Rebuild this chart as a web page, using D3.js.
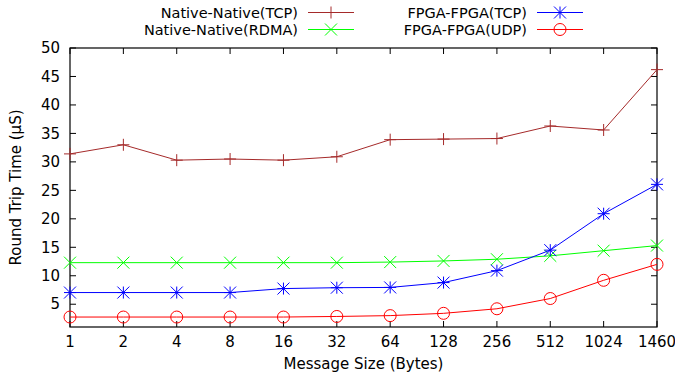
<!DOCTYPE html>
<html>
<head>
<meta charset="utf-8">
<script src="https://cdn.jsdelivr.net/npm/d3@7"></script>
<style>
  body { margin: 0; background: #fff; }
  text { font-family: "DejaVu Sans", sans-serif; fill: #000; }
</style>
</head>
<body>
<svg id="chart" width="675" height="379"></svg>
<script>
const sizes = ["1", "2", "4", "8", "16", "32", "64", "128", "256", "512", "1024", "1460"];
const nativeTcp = [31.4, 33.0, 30.3, 30.5, 30.3, 30.9, 33.9, 34.0, 34.1, 36.3, 35.6, 46.2];
const nativeRdma = [12.3, 12.3, 12.3, 12.3, 12.3, 12.3, 12.4, 12.6, 12.9, 13.5, 14.4, 15.3];
const fpgaTcp = [7.05, 7.05, 7.05, 7.05, 7.75, 7.9, 7.95, 8.8, 10.9, 14.5, 20.9, 26.05];
const fpgaUdp = [2.75, 2.75, 2.75, 2.75, 2.75, 2.85, 3.0, 3.4, 4.2, 6.0, 9.2, 12.0];
const yTicks = [5, 10, 15, 20, 25, 30, 35, 40, 45, 50];

const series = [
  {name: "Native-Native(TCP)", values: nativeTcp, color: "#a52a2a", mark: "plus"},
  {name: "Native-Native(RDMA)", values: nativeRdma, color: "#00ff00", mark: "cross"},
  {name: "FPGA-FPGA(TCP)", values: fpgaTcp, color: "#0000ff", mark: "star"},
  {name: "FPGA-FPGA(UDP)", values: fpgaUdp, color: "#ff0000", mark: "circle"}
];

const margin = {top: 48, right: 18, bottom: 52, left: 70};
const W = 675, H = 379;
const fs = 15;
const x = d3.scalePoint().domain(sizes).range([margin.left, W - margin.right]);
const y = d3.scaleLinear().domain([1, 50]).range([H - margin.bottom, margin.top]);

const svg = d3.select("#chart");

// ticks inside on all four sides (mirrored)
const tickLen = 6;
const ticks = svg.append("g").attr("stroke", "#000").attr("stroke-width", 1);
yTicks.forEach(t => {
  ticks.append("line").attr("x1", margin.left).attr("x2", margin.left + tickLen)
    .attr("y1", y(t)).attr("y2", y(t));
  ticks.append("line").attr("x1", W - margin.right).attr("x2", W - margin.right - tickLen)
    .attr("y1", y(t)).attr("y2", y(t));
});
sizes.forEach(s => {
  ticks.append("line").attr("x1", x(s)).attr("x2", x(s))
    .attr("y1", y(1)).attr("y2", y(1) - tickLen);
  ticks.append("line").attr("x1", x(s)).attr("x2", x(s))
    .attr("y1", y(50)).attr("y2", y(50) + tickLen);
});

svg.append("rect")
  .attr("x", margin.left).attr("y", margin.top)
  .attr("width", W - margin.left - margin.right)
  .attr("height", H - margin.top - margin.bottom)
  .attr("fill", "none").attr("stroke", "#000").attr("stroke-width", 1.2);

svg.append("g").selectAll("text").data(yTicks).join("text")
  .attr("x", margin.left - 10).attr("y", d => y(d)).attr("dy", "0.35em")
  .attr("text-anchor", "end").attr("font-size", fs).text(d => d);

svg.append("g").selectAll("text").data(sizes).join("text")
  .attr("x", d => x(d)).attr("y", 347)
  .attr("text-anchor", "middle").attr("font-size", fs).text(d => d);

svg.append("text")
  .attr("x", (margin.left + W - margin.right) / 2).attr("y", 369)
  .attr("text-anchor", "middle").attr("font-size", fs).text("Message Size (Bytes)");

svg.append("text")
  .attr("transform", `translate(21, ${(margin.top + H - margin.bottom) / 2}) rotate(-90)`)
  .attr("text-anchor", "middle").attr("font-size", fs).text("Round Trip Time (µS)");

function drawMark(g, type, cx, cy, color) {
  const r = 6;
  const line = (x1, y1, x2, y2) => g.append("line")
    .attr("x1", x1).attr("y1", y1).attr("x2", x2).attr("y2", y2)
    .attr("stroke", color).attr("stroke-width", 1);
  if (type === "plus" || type === "star") {
    line(cx - r, cy, cx + r, cy);
    line(cx, cy - r, cx, cy + r);
  }
  if (type === "cross" || type === "star") {
    line(cx - r, cy - r, cx + r, cy + r);
    line(cx - r, cy + r, cx + r, cy - r);
  }
  if (type === "circle") {
    g.append("circle").attr("cx", cx).attr("cy", cy).attr("r", r)
      .attr("fill", "none").attr("stroke", color).attr("stroke-width", 1);
  }
}

const lineGen = d3.line().x((d, i) => x(sizes[i])).y(d => y(d));

series.forEach(s => {
  const g = svg.append("g");
  g.append("path").attr("d", lineGen(s.values))
    .attr("fill", "none").attr("stroke", s.color).attr("stroke-width", 1);
  s.values.forEach((v, i) => drawMark(g, s.mark, x(sizes[i]), y(v), s.color));
});

// legend, two columns, text right aligned before a sample
const legendPos = [
  {tx: 298, ly: 12.5}, {tx: 298, ly: 29.5}, {tx: 527, ly: 12.5}, {tx: 527, ly: 29.5}
];
series.forEach((s, i) => {
  const p = legendPos[i];
  const g = svg.append("g");
  g.append("text").attr("x", p.tx).attr("y", p.ly).attr("dy", "0.35em")
    .attr("text-anchor", "end").attr("font-size", 14.5).text(s.name);
  g.append("line").attr("x1", p.tx + 10).attr("x2", p.tx + 56)
    .attr("y1", p.ly).attr("y2", p.ly).attr("stroke", s.color).attr("stroke-width", 1);
  drawMark(g, s.mark, p.tx + 33, p.ly, s.color);
});
</script>
</body>
</html>
